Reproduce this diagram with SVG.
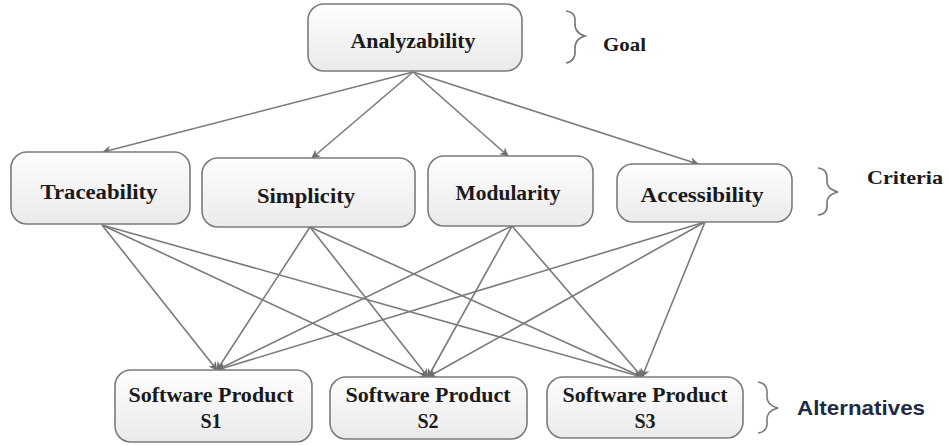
<svg xmlns="http://www.w3.org/2000/svg" width="948" height="445" viewBox="0 0 948 445">
<style>
.box{fill:url(#g);stroke:#7b7b7b;stroke-width:1.6}
.t{font-family:"Liberation Serif","Times New Roman",serif;font-weight:bold;font-size:20px;fill:#1a1a1a;text-anchor:middle}
.lbl{font-family:"Liberation Serif","Times New Roman",serif;font-weight:bold;font-size:19px;fill:#1a1a1a}
.alt{font-family:"Liberation Sans",Arial,sans-serif;font-weight:bold;font-size:21px;fill:#1f2a44}
.c{stroke:#7a7a7a;stroke-width:1.6;fill:none;marker-end:url(#ah)}
.br{stroke:#7a7a7a;stroke-width:1.6;fill:none}
</style>
<defs>
<linearGradient id="g" x1="0" y1="0" x2="0" y2="1">
<stop offset="0" stop-color="#fefefe"/>
<stop offset="1" stop-color="#eaeaea"/>
</linearGradient>
<marker id="ah" viewBox="0 0 10 10" refX="9" refY="5" markerWidth="9" markerHeight="9" orient="auto" markerUnits="userSpaceOnUse">
<path d="M0,0 L10,5 L0,10 L3,5 Z" fill="#6e6e6e"/>
</marker>
</defs>
<rect width="948" height="445" fill="#fff"/>
<g id="connectors">
<line class="c" x1="413" y1="72" x2="103" y2="152"/>
<line class="c" x1="413" y1="72" x2="312" y2="158"/>
<line class="c" x1="413" y1="72" x2="508" y2="156"/>
<line class="c" x1="413" y1="72" x2="698" y2="164"/>
<line class="c" x1="102" y1="225" x2="217" y2="370"/>
<line class="c" x1="102" y1="225" x2="428" y2="377"/>
<line class="c" x1="102" y1="225" x2="642" y2="377"/>
<line class="c" x1="310" y1="227" x2="217" y2="370"/>
<line class="c" x1="310" y1="227" x2="428" y2="377"/>
<line class="c" x1="310" y1="227" x2="642" y2="377"/>
<line class="c" x1="512" y1="226" x2="217" y2="370"/>
<line class="c" x1="512" y1="226" x2="428" y2="377"/>
<line class="c" x1="512" y1="226" x2="642" y2="377"/>
<line class="c" x1="705" y1="222" x2="217" y2="370"/>
<line class="c" x1="705" y1="222" x2="428" y2="377"/>
<line class="c" x1="705" y1="222" x2="642" y2="377"/>
</g>
<g id="analyzability">
<rect class="box" x="308" y="4" width="214" height="67" rx="16"/>
<text class="t" x="413" y="48" textLength="125" lengthAdjust="spacingAndGlyphs">Analyzability</text>
</g>
<g id="traceability">
<rect class="box" x="11" y="152" width="179" height="72" rx="16"/>
<text class="t" x="99" y="199" textLength="117" lengthAdjust="spacingAndGlyphs">Traceability</text>
</g>
<g id="simplicity">
<rect class="box" x="202" y="158" width="213" height="69" rx="16"/>
<text class="t" x="306" y="203" textLength="98" lengthAdjust="spacingAndGlyphs">Simplicity</text>
</g>
<g id="modularity">
<rect class="box" x="428" y="156" width="165" height="70" rx="16"/>
<text class="t" x="508" y="200" textLength="105" lengthAdjust="spacingAndGlyphs">Modularity</text>
</g>
<g id="accessibility">
<rect class="box" x="617" y="164" width="175" height="58" rx="16"/>
<text class="t" x="702" y="202" textLength="123" lengthAdjust="spacingAndGlyphs">Accessibility</text>
</g>
<g id="s1">
<rect class="box" x="115" y="370" width="197" height="72" rx="16"/>
<text class="t" x="211" y="402" textLength="165" lengthAdjust="spacingAndGlyphs">Software Product</text>
<text class="t" x="211" y="428">S1</text>
</g>
<g id="s2">
<rect class="box" x="330" y="377" width="197" height="62" rx="16"/>
<text class="t" x="428" y="402" textLength="165" lengthAdjust="spacingAndGlyphs">Software Product</text>
<text class="t" x="428" y="428">S2</text>
</g>
<g id="s3">
<rect class="box" x="547" y="377" width="196" height="61" rx="16"/>
<text class="t" x="645" y="402" textLength="165" lengthAdjust="spacingAndGlyphs">Software Product</text>
<text class="t" x="645" y="428">S3</text>
</g>
<g id="goal-label">
<path class="br" d="M566,11 Q576,12 575,22 Q574,33 585,36 Q574,39 575,50 Q576,61 566,63"/>
<text class="lbl" x="603" y="51" textLength="43" lengthAdjust="spacingAndGlyphs">Goal</text>
</g>
<g id="criteria-label">
<path class="br" d="M818,168 Q828,169 827,180 Q826,189 838,192 Q826,195 827,204 Q828,214 818,215"/>
<text class="lbl" x="867" y="184" textLength="76" lengthAdjust="spacingAndGlyphs">Criteria</text>
</g>
<g id="alternatives-label">
<path class="br" d="M758,382 Q768,383 767,395 Q766,405 778,408 Q766,411 767,421 Q768,432 758,433"/>
<text class="alt" x="797" y="415" textLength="128" lengthAdjust="spacingAndGlyphs">Alternatives</text>
</g>
</svg>
